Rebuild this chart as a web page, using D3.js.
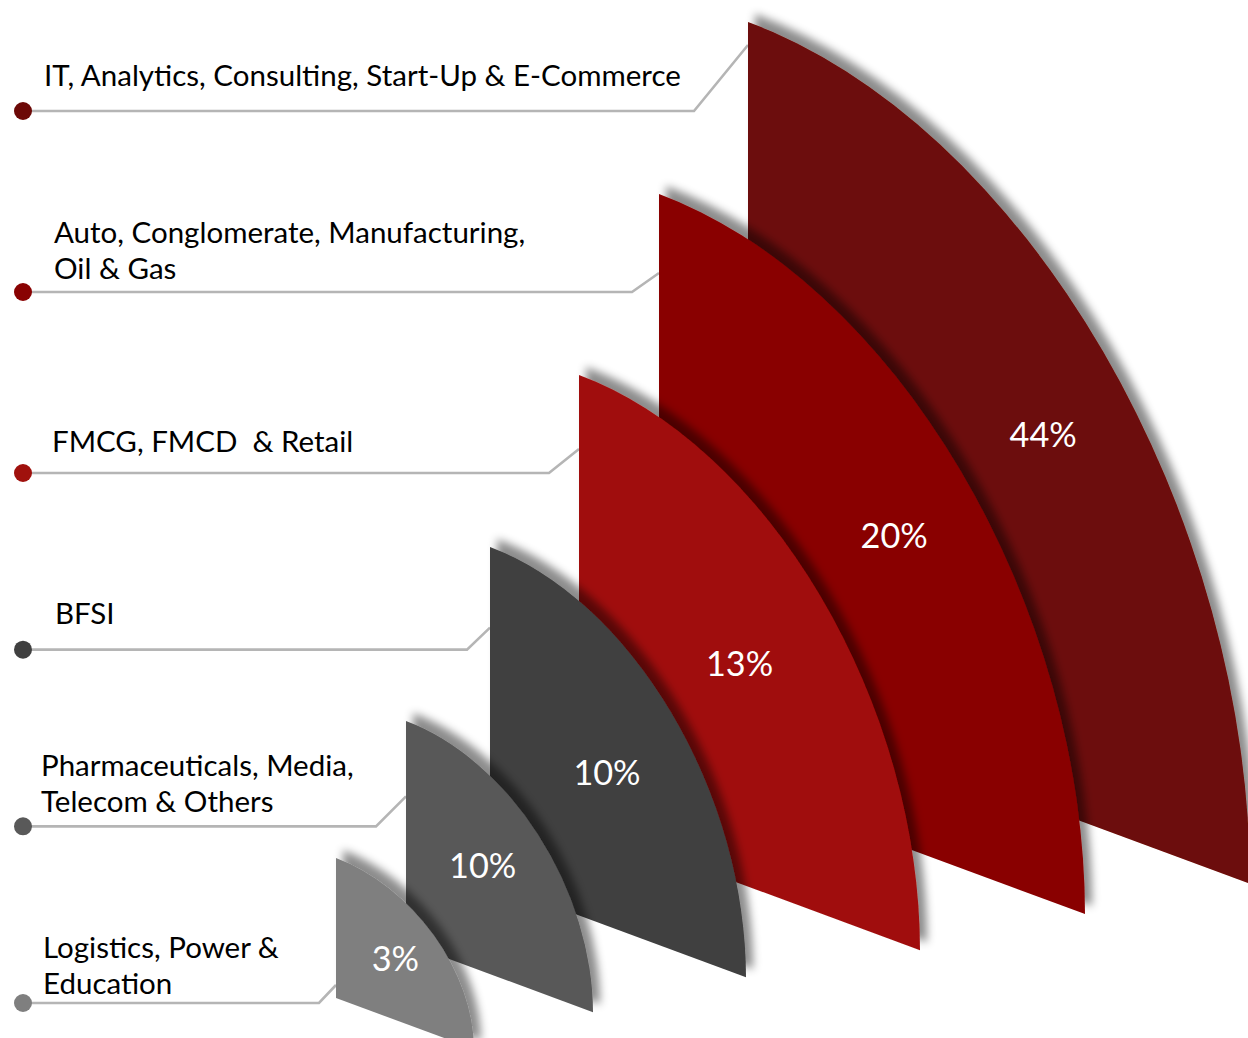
<!DOCTYPE html>
<html>
<head>
<meta charset="utf-8">
<script src="https://cdn.jsdelivr.net/npm/d3@7"></script>
<style>
  html, body { margin: 0; padding: 0; background: #fff; }
  svg { display: block; }
  .label { font-family: Lato, "Open Sans", sans-serif; fill: #000; }
  .pct { font-family: Lato, "Open Sans", sans-serif; fill: #fff; text-anchor: middle; }
</style>
</head>
<body>
<svg id="chart" width="1248" height="1038"></svg>
<script>
//  DATA, listed in legend order (top to bottom = back to front)
const sectors = [
    ['IT, Analytics, Consulting, Start-Up & E-Commerce'],
    ['Auto, Conglomerate, Manufacturing,', 'Oil & Gas'],
    ['FMCG, FMCD  & Retail'],
    ['BFSI'],
    ['Pharmaceuticals, Media,', 'Telecom & Others'],
    ['Logistics, Power &', 'Education']
];
const shares = [44, 20, 13, 10, 10, 3];
const colours = ['#6c0907', '#890202', '#a0110d', '#404040', '#595959', '#7f7f7f'];


// ======================= LAYOUT ===============================
const width = 1248;
const height = 1038;
const n = sectors.length;

//  rank 0 = the smallest (front) shape, rank 5 = the biggest (back) one
const rankOf = (i) => n - 1 - i;

const leftX = d3.scaleLinear().domain([0, 1, 2, 3, 4, 5]).range([336, 406, 490, 579, 659, 748]);
const topY  = d3.scaleLinear().domain([0, 1, 2, 3, 4, 5]).range([858, 721, 547, 375, 194, 22]);
const edgeH = d3.scaleLinear().domain([0, 1, 5]).range([140, 222, 676]);          // vertical edge
const reach = d3.scaleLinear().domain([0, 1, 2, 4, 5]).range([138, 187, 256, 426, 502]); // sideways reach
const tilt = 0.37;                                                              // slope of the bottom edge

//  legend rows, by legend index
const dotY = d3.scaleLinear().domain([0, 2, n - 1]).range([111, 473, 1003]);
const dotX = 23;
const textX   = [44, 54, 52, 55, 41, 43];
const baseOff = [25, 13, 21, 26, 14, 9];
const run     = [54, 27, 30, 23, 30, 17];
const rise    = [66, 19, 24, 22, 30, 18];
const lineH = 36;

//  where the % sits inside each shape, as fractions of its own frame (by rank)
const pctU = [0.43, 0.41, 0.457, 0.471, 0.552, 0.588];
const pctV = [0.436, 0.475, 0.456, 0.489, 0.546, 0.551];

const svg = d3.select('#chart');

//  fit the label font to the size of the original lettering
const probe = svg.append('text').attr('class', 'label').style('font-size', '30px');
const probeLen = (s) => probe.text(s).node().getComputedTextLength();
const labelSize = 30 * (632 + 318) / (probeLen(sectors[0][0]) + probeLen(sectors[4][0]));
probe.remove();
const pctSize = labelSize * 36 / 31;


// ======================= SHADOW ===============================
const filter = svg.append('defs').append('filter')
    .attr('id', 'shade')
    .attr('x', '-25%').attr('y', '-25%')
    .attr('width', '150%').attr('height', '150%');
filter.append('feDropShadow')
    .attr('dx', 7)
    .attr('dy', -8)
    .attr('stdDeviation', 4.5)
    .attr('flood-color', '#000')
    .attr('flood-opacity', 0.45);


// ======================= LEGEND ===============================
const legend = svg.append('g').attr('class', 'legend');

sectors.forEach((lines, i) => {
    const r = rankOf(i);
    const y = dotY(i);
    const x1 = leftX(r);

    legend.append('polyline')
        .attr('points', [[dotX, y], [x1 - run[i], y], [x1, y - rise[i]]].map(p => p.join(',')).join(' '))
        .attr('fill', 'none')
        .attr('stroke', '#b5b5b5')
        .attr('stroke-width', 2.6);

    legend.append('circle')
        .attr('cx', dotX)
        .attr('cy', y)
        .attr('r', 9)
        .attr('fill', colours[i]);

    const lastBase = y - baseOff[i];
    const text = legend.append('text')
        .attr('class', 'label')
        .style('font-size', `${labelSize}px`)
        .attr('xml:space', 'preserve');
    lines.forEach((line, k) => {
        text.append('tspan')
            .attr('x', textX[i])
            .attr('y', lastBase - (lines.length - 1 - k) * lineH)
            .text(line);
    });
});


// ======================= SHAPES ===============================
//  a quarter pie of radius R, squashed into each shape's slanted frame
const R = 1000;
const quarter = d3.arc()({ innerRadius: 0, outerRadius: R, startAngle: 0, endAngle: Math.PI / 2 });

const shapes = svg.append('g').attr('class', 'shapes');

sectors.forEach((lines, i) => {
    const r = rankOf(i);
    const x0 = leftX(r);
    const h = edgeH(r);
    const w = reach(r);
    const yb = topY(r) + h;

    const g = shapes.append('g').attr('class', 'shape');

    g.append('g')
        .attr('filter', 'url(#shade)')
        .append('path')
        .attr('d', quarter)
        .attr('transform', `matrix(${w / R},${tilt * w / R},0,${h / R},${x0},${yb})`)
        .attr('fill', colours[i]);

    const u = pctU[r];
    const v = pctV[r];
    g.append('text')
        .attr('class', 'pct')
        .style('font-size', `${pctSize}px`)
        .attr('x', x0 + w * u)
        .attr('y', yb - h * v + tilt * w * u)
        .attr('dy', '0.35em')
        .text(`${shares[i]}%`);
});
</script>
</body>
</html>
